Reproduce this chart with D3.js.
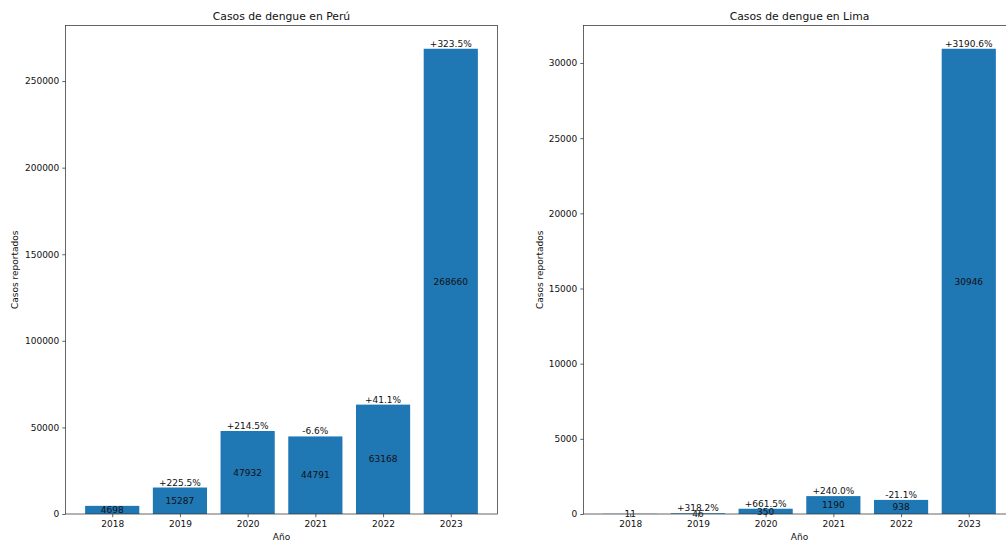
<!DOCTYPE html>
<html>
<head>
<meta charset="utf-8">
<script src="https://cdn.jsdelivr.net/npm/d3@7/dist/d3.min.js"></script>
<style>
  html, body { margin: 0; padding: 0; background: #fff; overflow: hidden; }
  svg { display: block; font-family: "DejaVu Sans", sans-serif; }
</style>
</head>
<body>
<svg id="chart" width="1006" height="542"></svg>
<script>
// Años y casos reportados
const years = ["2018", "2019", "2020", "2021", "2022", "2023"];
const casosPeru = [4698, 15287, 47932, 44791, 63168, 268660];
const cambioPeru = ["", "+225.5%", "+214.5%", "-6.6%", "+41.1%", "+323.5%"];
const casosLima = [11, 46, 350, 1190, 938, 30946];
const cambioLima = ["", "+318.2%", "+661.5%", "+240.0%", "-21.1%", "+3190.6%"];
const ticksPeru = [0, 50000, 100000, 150000, 200000, 250000];
const ticksLima = [0, 5000, 10000, 15000, 20000, 25000, 30000];

(function () {
  const svg = d3.select("#chart");
  const barColor = "#1f77b4";
  const axisColor = "#333";

  const panels = [
    { title: "Casos de dengue en Perú", values: casosPeru, changes: cambioPeru, ticks: ticksPeru, left: 65.5, ylabelX: 15 },
    { title: "Casos de dengue en Lima", values: casosLima, changes: cambioLima, ticks: ticksLima, left: 583.5, ylabelX: 539.5 }
  ];

  const plotTop = 25.5, plotBottom = 514, plotW = 432;

  panels.forEach(p => {
    const g = svg.append("g");
    const idx = d3.range(years.length);

    // Escala lineal sobre el índice de la barra: ancho 0.8 y márgenes de 5 %
    const x = d3.scaleLinear().domain([-0.69, years.length - 1 + 0.69]).range([p.left, p.left + plotW]);
    const ymax = d3.max(p.values) * 1.05;
    const y = d3.scaleLinear().domain([0, ymax]).range([plotBottom, plotTop]);
    const bw = x(0.4) - x(-0.4);

    g.append("text")
      .attr("x", p.left + plotW / 2).attr("y", 20)
      .attr("text-anchor", "middle").attr("font-size", 10.8).attr("fill", "#111")
      .text(p.title);

    g.selectAll("rect.bar").data(idx).join("rect")
      .attr("class", "bar")
      .attr("x", i => x(i) - bw / 2)
      .attr("width", bw)
      .attr("y", i => y(p.values[i]))
      .attr("height", i => plotBottom - y(p.values[i]))
      .attr("fill", barColor);

    // Valor en el centro de cada barra
    g.selectAll("text.val").data(idx).join("text")
      .attr("class", "val")
      .attr("x", i => x(i))
      .attr("y", i => y(p.values[i] / 2))
      .attr("dy", "0.35em")
      .attr("text-anchor", "middle").attr("font-size", 9).attr("fill", "#111")
      .text(i => p.values[i]);

    // Variación porcentual sobre cada barra
    g.selectAll("text.chg").data(idx.filter(i => p.changes[i])).join("text")
      .attr("class", "chg")
      .attr("x", i => x(i))
      .attr("y", i => y(p.values[i]) - 2)
      .attr("text-anchor", "middle").attr("font-size", 9).attr("fill", "#111")
      .text(i => p.changes[i]);

    // Eje Y
    const yAxis = d3.axisLeft(y).tickValues(p.ticks).tickFormat(d3.format("d")).tickSizeOuter(0).tickSize(3.2).tickPadding(3);
    const ya = g.append("g").attr("transform", `translate(${p.left},0)`).call(yAxis);
    ya.select(".domain").remove();
    ya.selectAll("line").attr("stroke", axisColor).attr("stroke-width", 0.75);
    ya.selectAll("text").attr("font-size", 9).attr("fill", "#111").attr("font-family", "DejaVu Sans");

    // Eje X
    const xAxis = d3.axisBottom(x).tickValues(idx).tickFormat(i => years[i]).tickSizeOuter(0).tickSize(3.2).tickPadding(3);
    const xa = g.append("g").attr("transform", `translate(0,${plotBottom})`).call(xAxis);
    xa.select(".domain").remove();
    xa.selectAll("line").attr("stroke", axisColor).attr("stroke-width", 0.75);
    xa.selectAll("text").attr("font-size", 9).attr("fill", "#111").attr("font-family", "DejaVu Sans");

    // Marco
    g.append("rect")
      .attr("x", p.left).attr("y", plotTop).attr("width", plotW).attr("height", plotBottom - plotTop)
      .attr("fill", "none").attr("stroke", axisColor).attr("stroke-width", 0.75);

    g.append("text")
      .attr("x", p.left + plotW / 2).attr("y", 540)
      .attr("text-anchor", "middle").attr("font-size", 9).attr("fill", "#111")
      .text("Año");

    g.append("text")
      .attr("transform", `translate(${p.ylabelX},${(plotTop + plotBottom) / 2}) rotate(-90)`)
      .attr("dy", "0.35em")
      .attr("text-anchor", "middle").attr("font-size", 9).attr("fill", "#111")
      .text("Casos reportados");
  });
})();
</script>
</body>
</html>
